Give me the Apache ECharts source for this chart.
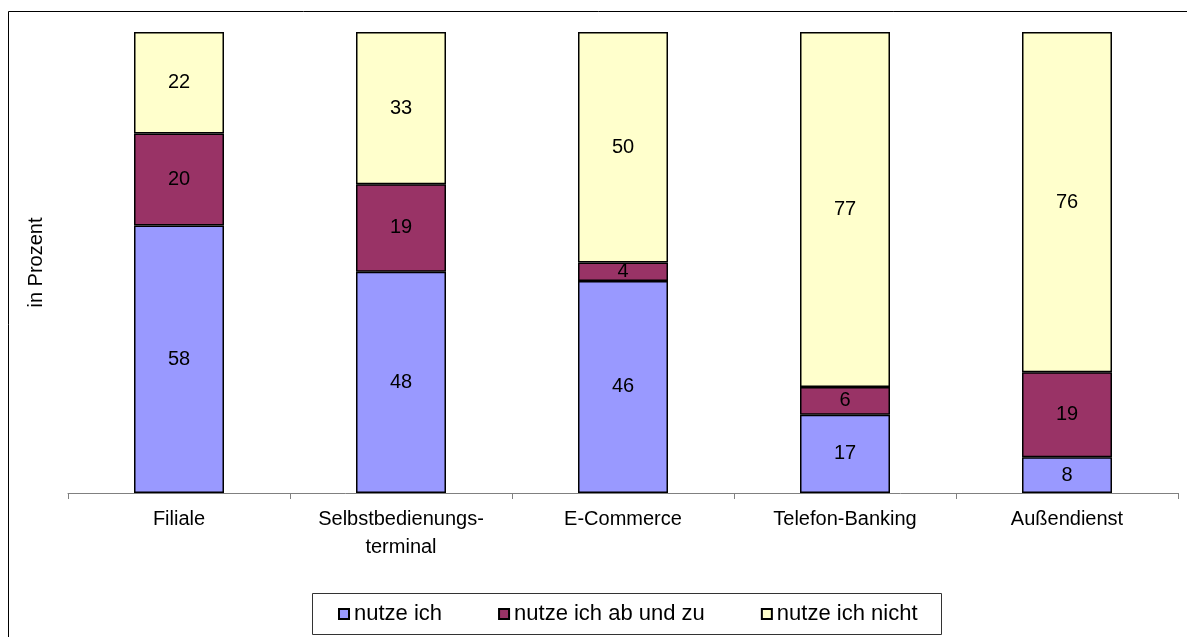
<!DOCTYPE html>
<html>
<head>
<meta charset="utf-8">
<script src="https://cdn.jsdelivr.net/npm/echarts@6/dist/echarts.min.js"></script>
<style>
  html, body { margin: 0; padding: 0; background: #fff; }
  #chart { width: 1187px; height: 637px; }
</style>
</head>
<body>
<div id="chart"></div>
<script>
// Kategorien und Werte (in Prozent)
const categories = ['Filiale', 'Selbstbedienungs-\nterminal', 'E-Commerce', 'Telefon-Banking', 'Außendienst']
const nutzeIch = [58, 48, 46, 17, 8]
const abUndZu = [20, 19, 4, 6, 19]
const nutzeNicht = [22, 33, 50, 77, 76]
const seriesNames = ['nutze ich', 'nutze ich ab und zu', 'nutze ich nicht']
const colors = ['#9999ff', '#993366', '#ffffcc']

const font = 'Liberation Sans, Arial, sans-serif'

// jede Säule auf 100 % normieren, Beschriftung zeigt den Originalwert
const totals = categories.map((c, i) => nutzeIch[i] + abUndZu[i] + nutzeNicht[i])
function toShare (arr) {
  return arr.map((v, i) => ({ value: v / totals[i] * 100, raw: v }))
}

function makeSeries (name, arr, color) {
  return {
    name: name,
    type: 'bar',
    stack: 'total',
    barWidth: 90,
    data: toShare(arr),
    itemStyle: {
      color: color,
      borderColor: '#000',
      borderWidth: 1.5
    },
    label: {
      show: true,
      position: 'inside',
      color: '#000',
      fontFamily: font,
      fontSize: 20,
      formatter: p => p.data.raw
    },
    emphasis: { disabled: true }
  }
}

const chart = echarts.init(document.getElementById('chart'))
chart.setOption({
  animation: false,
  textStyle: { fontFamily: font },
  graphic: [
    {
      // Rahmen um das ganze Diagramm
      type: 'rect',
      shape: { x: 8.5, y: 11.5, width: 1200, height: 650 },
      style: { fill: 'none', stroke: '#000', lineWidth: 1 },
      silent: true
    },
    {
      // Rahmen der Legende
      type: 'rect',
      shape: { x: 312.5, y: 593.5, width: 629, height: 41 },
      style: { fill: '#fff', stroke: '#333', lineWidth: 1 },
      silent: true,
      z: -1
    }
  ],
  legend: {
    left: 338,
    top: 603,
    padding: 0,
    itemGap: 56,
    itemWidth: 10,
    itemHeight: 10,
    icon: 'rect',
    selectedMode: false,
    itemStyle: { borderColor: '#000', borderWidth: 2 },
    textStyle: { color: '#000', fontSize: 22, fontFamily: font },
    data: seriesNames
  },
  grid: {
    left: 68,
    right: 9,
    top: 32,
    bottom: 144,
    containLabel: false
  },
  xAxis: {
    type: 'category',
    data: categories,
    axisLine: { lineStyle: { color: '#808080', width: 1 } },
    axisTick: { show: true, length: 6, lineStyle: { color: '#808080' } },
    axisLabel: {
      color: '#000',
      fontSize: 20,
      fontFamily: font,
      lineHeight: 28,
      margin: 12
    }
  },
  yAxis: {
    type: 'value',
    min: 0,
    max: 100,
    name: 'in Prozent',
    nameLocation: 'middle',
    nameRotate: 90,
    nameGap: 22,
    nameTextStyle: { color: '#000', fontSize: 20, fontFamily: font },
    axisLine: { show: false },
    axisTick: { show: false },
    axisLabel: { show: false },
    splitLine: { show: false }
  },
  series: [
    makeSeries(seriesNames[0], nutzeIch, colors[0]),
    makeSeries(seriesNames[1], abUndZu, colors[1]),
    makeSeries(seriesNames[2], nutzeNicht, colors[2])
  ]
})
</script>
</body>
</html>
